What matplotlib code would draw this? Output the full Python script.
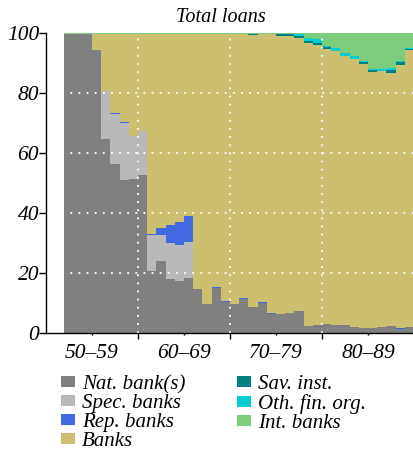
import numpy as np
import matplotlib
matplotlib.use("Agg")
from matplotlib import pyplot as plt
from matplotlib.patches import Patch

plt.rcParams['font.family'] = ['Liberation Serif', 'DejaVu Serif']
plt.rcParams['font.style'] = 'italic'

# yearly shares of total loans, 1952-1989 (percent)
years = list(range(1952, 1990))

nat_bank = [99.8, 99.8, 99.8, 94.4, 64.8, 56.3, 51.0, 51.4, 52.7, 20.8,
            24.0, 18.0, 17.3, 18.3, 14.7, 9.7, 15.0, 10.3, 9.7, 11.3,
            8.7, 10.0, 6.3, 6.3, 6.7, 7.3, 2.3, 2.7, 3.0, 2.7,
            2.7, 2.0, 1.7, 1.7, 2.0, 2.3, 1.3, 2.0]
spec_banks = [0, 0, 0, 0, 15.8, 16.7, 18.9, 14.4, 14.6, 12.0,
              8.8, 12.1, 12.1, 12.1, 0, 0, 0, 0, 0, 0,
              0, 0, 0, 0, 0, 0, 0, 0, 0, 0,
              0, 0, 0, 0, 0, 0, 0, 0]
rep_banks = [0, 0, 0, 0, 0, 0.3, 0.3, 0, 0, 0.3,
             2.2, 5.9, 7.6, 8.6, 0, 0, 0.3, 0.3, 0, 0.3,
             0, 0.3, 0.3, 0, 0, 0, 0, 0, 0, 0,
             0, 0, 0, 0, 0, 0, 0.3, 0]
banks = [0, 0, 0, 5.4, 19.2, 26.5, 29.6, 34.0, 32.5, 66.7,
         64.8, 63.8, 62.8, 60.8, 85.1, 90.1, 84.5, 89.2, 90.1, 88.2,
         90.7, 89.5, 93.2, 92.8, 92.4, 91.1, 94.5, 93.4, 91.8, 91.3,
         89.7, 89.4, 88.1, 85.4, 85.4, 84.5, 87.8, 92.4]
sav_inst = [0, 0, 0, 0, 0, 0, 0, 0, 0, 0,
            0, 0, 0, 0, 0, 0, 0, 0, 0, 0,
            0.4, 0, 0, 0.7, 0.7, 0.5, 0.6, 0.7, 0.4, 0,
            0, 0, 0.4, 0.5, 0, 1.0, 0.8, 0.4]
oth_fin = [0, 0, 0, 0, 0, 0, 0, 0, 0, 0,
           0, 0, 0, 0, 0, 0, 0, 0, 0, 0,
           0, 0, 0, 0, 0, 0.7, 0.9, 1.2, 0.5, 1.0,
           1.0, 1.0, 0.6, 0.5, 0.6, 0.6, 0.6, 0.3]
int_banks = [0.2, 0.2, 0.2, 0.2, 0.2, 0.2, 0.2, 0.2, 0.2, 0.2,
             0.2, 0.2, 0.2, 0.2, 0.2, 0.2, 0.2, 0.2, 0.2, 0.2,
             0.2, 0.2, 0.2, 0.2, 0.2, 0.4, 1.7, 2.0, 4.3, 5.0,
             6.6, 7.6, 9.2, 11.9, 12.0, 11.6, 9.2, 4.9]

labels = ['Nat. bank(s)', 'Spec. banks', 'Rep. banks', 'Banks',
          'Sav. inst.', 'Oth. fin. org.', 'Int. banks']
colors = ['#808080', '#b9b9b9', '#4169e1', '#cdbf70',
          '#008080', '#00ced1', '#7ccd7c']
series = [nat_bank, spec_banks, rep_banks, banks, sav_inst, oth_fin, int_banks]

decade_pos = [1955, 1965, 1975, 1985]
decade_labels = ['50\u201359', '60\u201369', '70\u201379', '80\u201389']

fig = plt.figure(figsize=(4.14, 4.51), dpi=100)
ax = fig.add_axes([46/414, 118/451, 368/414, 300/451])

edges = np.arange(years[0], years[-1] + 2)
bottom = np.zeros(len(years))
for vals, col in zip(series, colors):
    top = bottom + np.asarray(vals, dtype=float)
    ax.stairs(top, edges, baseline=bottom, fill=True, color=col, lw=0)
    bottom = top

ax.set_xlim(1950, 1990)
ax.set_ylim(0, 100)

# white dotted grid on top of the areas
for yv in [20, 40, 60, 80]:
    ax.axhline(yv, color='white', lw=1.3, linestyle=(0, (1, 3.5)), zorder=5)
for xv in [1960, 1970, 1980]:
    ax.axvline(xv, color='white', lw=1.3, linestyle=(0, (1, 3.5)), zorder=5)

for s in ['top', 'right']:
    ax.spines[s].set_visible(False)
for s in ['left', 'bottom']:
    ax.spines[s].set_linewidth(1)
    ax.spines[s].set_zorder(6)

ax.set_yticks([0, 20, 40, 60, 80, 100])
ax.set_yticklabels(['0', '20', '40', '60', '80', '100'], fontsize=15.5)
ax.tick_params(axis='y', direction='out', length=5, width=1, pad=0)

ax.set_xticks([1960, 1970, 1980, 1990])
ax.set_xticklabels([])
ax.set_xticks(decade_pos, minor=True)
ax.set_xticklabels(decade_labels, minor=True, fontsize=15.5)
ax.tick_params(axis='x', which='major', direction='out', length=4, width=1)
ax.tick_params(axis='x', which='minor', direction='out', length=1.5, width=1, pad=6.5)

fig.text(221/414, 1 - 21.5/451, 'Total loans', ha='center', va='baseline', fontsize=14.5)

handles = [Patch(facecolor=c, edgecolor='none') for c in colors]
fig.legend(handles, labels, ncol=2, loc='upper left',
           bbox_to_anchor=(61/414, 1 - 375/451), frameon=False, fontsize=15,
           handlelength=0.67, handleheight=0.45, handletextpad=0.34,
           columnspacing=2.45, labelspacing=0.0, borderpad=0, borderaxespad=0)

fig.savefig('out.png', dpi=100)
